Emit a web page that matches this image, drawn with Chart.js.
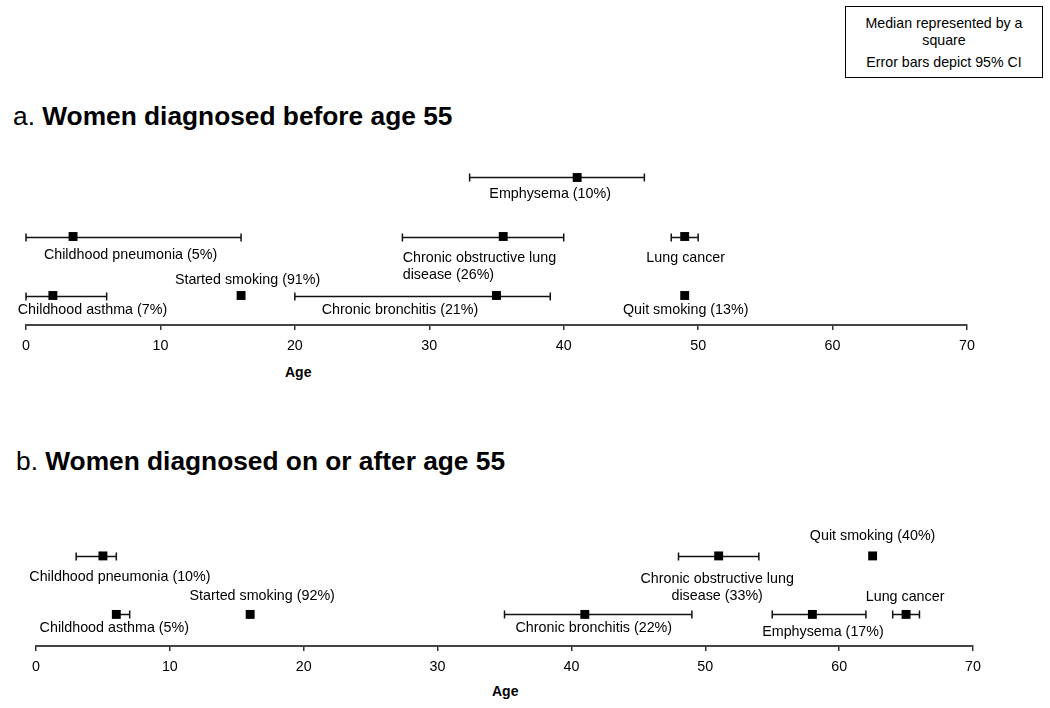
<!DOCTYPE html>
<html><head><meta charset="utf-8">
<script src="https://cdn.jsdelivr.net/npm/chart.js@4.4.0/dist/chart.umd.min.js"></script>
<style>
html,body{margin:0;padding:0;background:#fff;}
#wrap{position:relative;width:1050px;height:708px;overflow:hidden;font-family:"Liberation Sans",Arial,sans-serif;color:#000;background:#fff;}
.abs{position:absolute;white-space:nowrap;}
canvas{position:absolute;left:0;}
</style></head><body>
<div id="wrap">
  <div class="abs" style="left:845px;top:6px;width:196px;height:70px;border:1.5px solid #000;font-size:14.2px;text-align:center;">
    <div style="position:absolute;top:8px;left:0;right:0;line-height:17px">Median represented by a<br>square</div>
    <div style="position:absolute;top:47px;left:0;right:0;line-height:17px">Error bars depict 95% CI</div>
  </div>
  <div class="abs" style="left:13px;top:101px;font-size:26.3px;line-height:30px">a. <b>Women diagnosed before age 55</b></div>
  <div class="abs" style="left:16px;top:446px;font-size:26.3px;line-height:30px">b. <b>Women diagnosed on or after age 55</b></div>
  <div class="abs" style="left:285px;top:364px;font-size:14px;line-height:16px;font-weight:bold">Age</div>
  <div class="abs" style="left:492px;top:683px;font-size:14px;line-height:16px;font-weight:bold">Age</div>
  <canvas id="cA" width="1050" height="230" style="top:140px;width:1050px;height:230px"></canvas>
  <canvas id="cB" width="1050" height="180" style="top:511px;width:1050px;height:180px"></canvas>
</div>
<script>
// ---- data ----
const xTicks = [0, 10, 20, 30, 40, 50, 60, 70];

const labelsA = ['Emphysema (10%)', 'Childhood pneumonia (5%)', 'Chronic obstructive lung\ndisease (26%)', 'Lung cancer',
                 'Childhood asthma (7%)', 'Started smoking (91%)', 'Chronic bronchitis (21%)', 'Quit smoking (13%)'];
const rowA    = [3, 2, 2, 2, 1, 1, 1, 1];
const medianA = [41, 3.5, 35.5, 49, 2, 16, 35, 49];
const lowA    = [33, 0, 28, 48, 0, null, 20, null];
const highA   = [46, 16, 40, 50, 6, null, 39, null];

const labelsB = ['Childhood pneumonia (10%)', 'Chronic obstructive lung\ndisease (33%)', 'Quit smoking (40%)',
                 'Childhood asthma (5%)', 'Started smoking (92%)', 'Chronic bronchitis (22%)', 'Emphysema (17%)', 'Lung cancer'];
const rowB    = [2, 2, 2, 1, 1, 1, 1, 1];
const medianB = [5, 51, 62.5, 6, 16, 41, 58, 65];
const lowB    = [3, 48, null, 6, null, 35, 55, 64];
const highB   = [6, 54, null, 7, null, 49, 62, 66];

// ---- label placement (pixel offsets from the median mark) ----
const labelPosA = [[-27,17,'center'],[57.5,18.5,'center'],[-100.5,21.5,'left'],[1,22,'center'],
                   [39.6,14.5,'center'],[6.5,-15.3,'center'],[-96.5,15,'center'],[1,15,'center']];
const labelPosB = [[17,21,'center'],[-1.5,23,'center'],[0,-20,'center'],[-2,14,'center'],
                   [12,-18.5,'center'],[9,14,'center'],[10.6,17.5,'center'],[-1,-17.5,'center']];

const FONT = '"Liberation Sans", Arial, sans-serif';

function overlayPlugin(labels, row, median, low, high, pos) {
  return {
    id: 'overlay',
    beforeDatasetsDraw(chart) {
      const {ctx, scales: {x, y}} = chart;
      ctx.save();
      ctx.strokeStyle = '#111';
      ctx.lineWidth = 1.5;
      low.forEach((lo, i) => {
        if (lo == null) return;
        const py = Math.round(y.getPixelForValue(row[i])) + 0.5;
        const x1 = x.getPixelForValue(lo), x2 = x.getPixelForValue(high[i]);
        ctx.beginPath();
        ctx.moveTo(x1, py); ctx.lineTo(x2, py);
        ctx.moveTo(x1, py - 4); ctx.lineTo(x1, py + 4);
        ctx.moveTo(x2, py - 4); ctx.lineTo(x2, py + 4);
        ctx.stroke();
      });
      ctx.restore();
    },
    afterDatasetsDraw(chart) {
      const {ctx, scales: {x, y}} = chart;
      ctx.save();
      ctx.fillStyle = '#000';
      ctx.font = '14.3px ' + FONT;
      ctx.textBaseline = 'middle';
      labels.forEach((lab, i) => {
        const [dx, dy, align] = pos[i];
        const px = x.getPixelForValue(median[i]) + dx;
        const py = y.getPixelForValue(row[i]) + dy;
        ctx.textAlign = align;
        lab.split('\n').forEach((line, k) => ctx.fillText(line, px, py + k * 17.5));
      });
      ctx.restore();
    }
  };
}

function makeChart(id, labels, row, median, low, high, pos, pad, ymin, ymax) {
  new Chart(document.getElementById(id), {
    type: 'scatter',
    data: {
      datasets: [{
        data: median.map((m, i) => ({x: m, y: row[i]})),
        pointStyle: 'rect', pointRadius: 6.3, pointHoverRadius: 6.3,
        backgroundColor: '#000', borderColor: '#000', borderWidth: 0
      }]
    },
    options: {
      responsive: false, animation: false, events: [],
      layout: {padding: pad},
      plugins: {legend: {display: false}, tooltip: {enabled: false}},
      scales: {
        x: {
          type: 'linear', min: xTicks[0], max: xTicks[xTicks.length - 1],
          afterBuildTicks: (s) => { s.ticks = xTicks.map(v => ({value: v})); },
          ticks: {color: '#000', font: {family: FONT, size: 14.3}, padding: 7, maxRotation: 0, autoSkip: false},
          grid: {drawOnChartArea: false, drawTicks: true, tickLength: 5, color: '#333', lineWidth: 1.5},
          border: {display: true, color: '#444', width: 2},
          afterFit: (s) => { s.height = 40; }
        },
        y: {type: 'linear', display: false, min: ymin, max: ymax}
      }
    },
    plugins: [overlayPlugin(labels, row, median, low, high, pos)]
  });
}

makeChart('cA', labelsA, rowA, medianA, lowA, highA, labelPosA, {left: 26, right: 83, top: 8, bottom: 5}, 0.5, 3.5);
makeChart('cB', labelsB, rowB, medianB, lowB, highB, labelPosB, {left: 36, right: 77, top: 10, bottom: 5}, 0.46, 2.597);
</script>
</body></html>
